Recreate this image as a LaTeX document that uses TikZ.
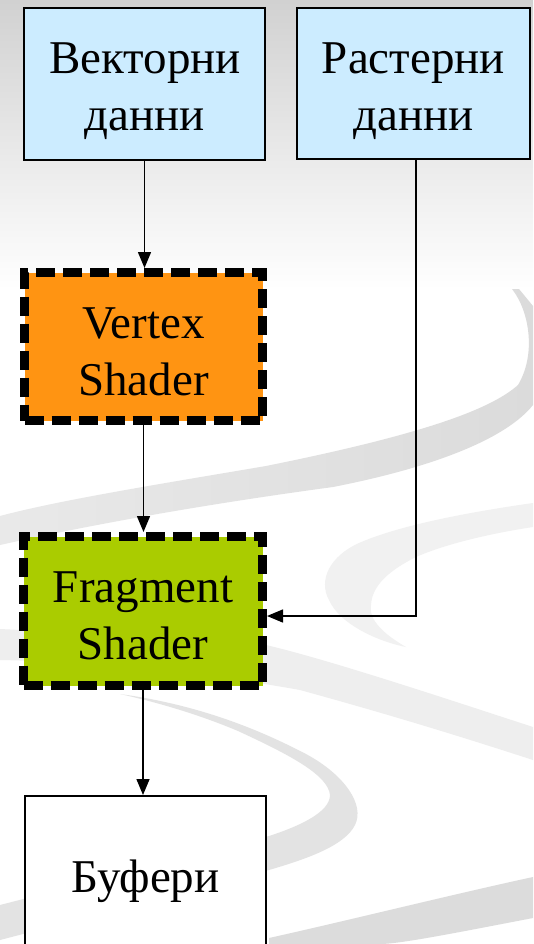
\documentclass[tikz,border=0pt]{standalone}
\usepackage{fontspec}
\setmainfont{Liberation Serif}
\usetikzlibrary{arrows.meta}
\definecolor{lblue}{HTML}{CCECFF}
\definecolor{vorange}{HTML}{FF9412}
\definecolor{fgreen}{HTML}{AACC00}
\definecolor{bgtop}{HTML}{D1D1D1}
\definecolor{bandA}{HTML}{DBDBDB}
\definecolor{bandAl}{HTML}{E9E9E9}
\definecolor{bandB}{HTML}{F1F1F1}
\definecolor{bandC}{HTML}{EEEEEE}
\definecolor{bandD}{HTML}{E3E3E3}
\definecolor{bandE}{HTML}{DCDCDC}
\begin{document}
\begin{tikzpicture}[x=1pt,y=-1pt,
  txt/.style={font=\fontsize{47}{57}\selectfont, align=center, inner sep=0pt, anchor=base},
  plainbox/.style={rectangle, draw=black, line width=2pt, inner sep=0pt},
  dashbox/.style={rectangle, draw=black, line width=9pt, dash pattern=on 19pt off 8pt, inner sep=0pt},
  arr/.style={line width=1.5pt, -{Triangle[length=16pt,width=13pt]}}]
\useasboundingbox (0,0) rectangle (533,944);
\clip (0,0) rectangle (533,944);
% background
\fill[white] (0,0) rectangle (533,944);
\shade[top color=bgtop, bottom color=white] (0,0) rectangle (533,290);
% ribbons
\shade[left color=bandAl, right color=bandA]
  (512,289) -- (519,289) -- (533,306) -- (533,405)
  .. controls (505,440) and (430,468) .. (333,487)
  .. controls (200,505) and (90,525) .. (0,545) -- (0,516)
  .. controls (60,500) and (160,484) .. (266,466)
  .. controls (420,435) and (490,410) .. (518,385)
  .. controls (536,355) and (530,312) .. (512,289) -- cycle;
\fill[bandB]
  (533,503) .. controls (470,512) and (400,525) .. (359,543)
  .. controls (330,556) and (318,580) .. (329,600)
  .. controls (340,625) and (380,642) .. (406,647)
  .. controls (385,635) and (368,620) .. (371,605)
  .. controls (372,585) and (390,570) .. (416,557)
  .. controls (450,542) and (500,532) .. (533,527) -- cycle;
\fill[bandC]
  (0,629) .. controls (100,634) and (200,640) .. (266,645)
  .. controls (330,660) and (450,700) .. (533,727) -- (533,760)
  .. controls (450,733) and (380,712) .. (300,690)
  .. controls (200,672) and (100,662) .. (0,660) -- cycle;
\fill[bandD]
  (120,694) .. controls (200,705) and (260,730) .. (306,754)
  .. controls (345,775) and (365,805) .. (355,825)
  .. controls (345,845) and (310,858) .. (269,870) -- (0,940) -- (0,905) -- (269,836)
  .. controls (300,826) and (330,812) .. (330,795)
  .. controls (328,775) and (290,755) .. (238,731)
  .. controls (200,715) and (160,703) .. (120,694) -- cycle;
\fill[bandE]
  (269,944) -- (269,938) .. controls (350,920) and (450,895) .. (533,877)
  -- (533,918) .. controls (460,932) and (400,944) .. (380,944) -- cycle;
% boxes
\node[plainbox, fill=lblue, minimum width=241pt, minimum height=152pt] (vd) at (144.5,84) {};
\node[plainbox, fill=lblue, minimum width=233pt, minimum height=151pt] (rd) at (413.5,83.5) {};
\node[dashbox, fill=vorange, minimum width=238pt, minimum height=148pt] (vs) at (143.5,346.5) {};
\node[dashbox, fill=fgreen, minimum width=239pt, minimum height=149pt] (fs) at (143,611) {};
\node[plainbox, fill=white, minimum width=241pt, minimum height=162pt] (bf) at (145.5,877) {};
% texts (anchored at the baseline of the last line)
\node[txt] (vdt) at (145,131) {Векторни\\данни};
\node[txt] (rdt) at (413.5,131) {Растерни\\данни};
\node[txt] (vst) at (143.5,395) {Vertex\\Shader};
\node[txt] (fst) at (143,659) {Fragment\\Shader};
\node[txt] (bft) at (145.5,892) {Буфери};
% connectors
\draw[arr] (vd.south) -- (vd.south |- vs.north);
\draw[arr] (vs.south) -- (vs.south |- fs.north);
\draw[arr] (fs.south) -- (fs.south |- bf.north);
\draw[arr] ([xshift=2.5pt]rd.south) |- ([yshift=-5pt]fs.east);
\end{tikzpicture}
\end{document}
